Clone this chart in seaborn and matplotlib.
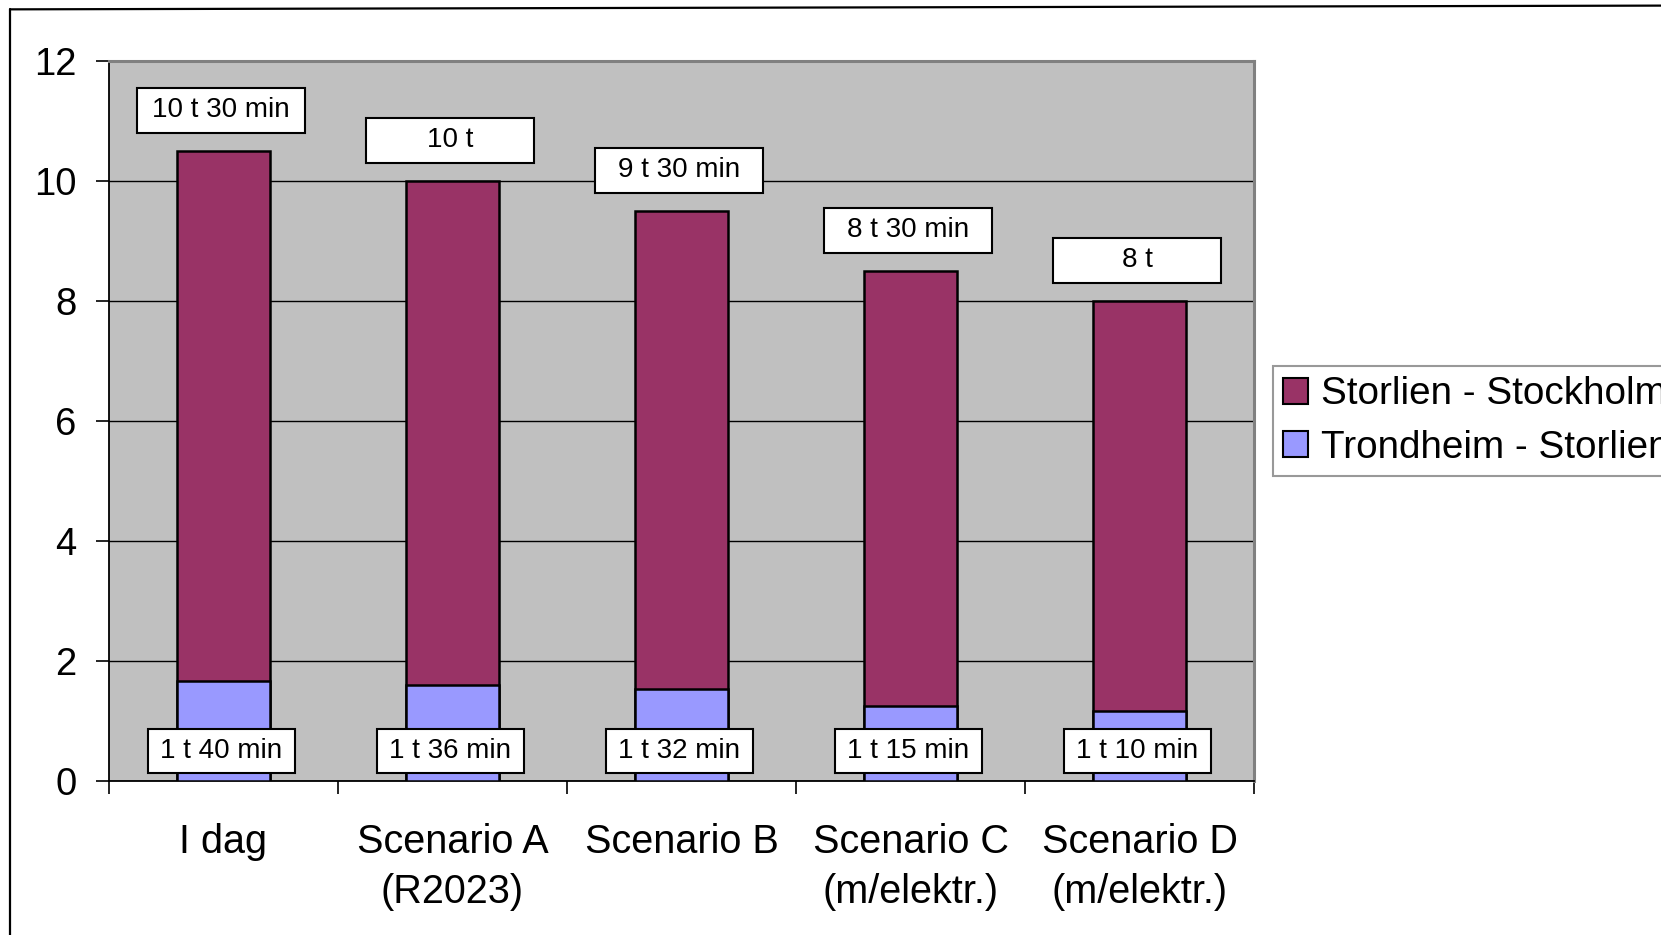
import matplotlib
matplotlib.use("Agg")
import matplotlib.pyplot as plt
import seaborn as sns
import pandas as pd
from matplotlib.patches import Rectangle, Patch
from matplotlib.lines import Line2D
from matplotlib.transforms import ScaledTranslation

# Travel times per scenario
categories = ["I dag", "Scenario A\n(R2023)", "Scenario B",
              "Scenario C\n(m/elektr.)", "Scenario D\n(m/elektr.)"]
total_minutes = [630, 600, 570, 510, 480]        # Trondheim - Stockholm, whole trip
trondheim_storlien_minutes = [100, 96, 92, 75, 70]
series_names = ["Storlien - Stockholm", "Trondheim - Storlien"]
y_ticks = [0, 2, 4, 6, 8, 10, 12]

PURPLE = "#993366"
LAVENDER = "#9999FF"
PLOT_BG = "#C0C0C0"


def fmt_time(minutes):
    h, m = divmod(minutes, 60)
    return f"{h} t" if m == 0 else f"{h} t {m} min"


df = pd.DataFrame({
    "category": categories,
    "total_h": [m / 60 for m in total_minutes],
    "lower_h": [m / 60 for m in trondheim_storlien_minutes],
})

sns.set_theme(style="white")
plt.rcParams["font.family"] = ["Liberation Sans", "DejaVu Sans"]
plt.rcParams["text.color"] = "black"
plt.rcParams["xtick.color"] = "black"
plt.rcParams["ytick.color"] = "black"
plt.rcParams["xtick.labelcolor"] = "black"
plt.rcParams["ytick.labelcolor"] = "black"

fig = plt.figure(figsize=(16.61, 9.35), dpi=100)
ax = fig.add_axes([0.0656, 0.1647, 0.6894, 0.770])
ax.set_facecolor(PLOT_BG)

bar_w = 0.41
# Full trip as the tall bar, the Trondheim - Storlien leg drawn over its base
sns.barplot(data=df, x="category", y="total_h", color=PURPLE, saturation=1,
            width=bar_w, edgecolor="black", linewidth=1.8, ax=ax, zorder=3)
sns.barplot(data=df, x="category", y="lower_h", color=LAVENDER, saturation=1,
            width=bar_w, edgecolor="black", linewidth=1.8, ax=ax, zorder=3)

ax.set_xlim(-0.5, len(categories) - 0.5)
ax.set_ylim(0, 12)
ax.set_yticks(y_ticks)
ax.set_yticklabels([str(t) for t in y_ticks])
ax.set_xlabel("")
ax.set_ylabel("")

ax.yaxis.grid(True, color="black", linewidth=1.0)
ax.xaxis.grid(False)
ax.set_axisbelow(True)

for side in ("left", "bottom"):
    ax.spines[side].set_color("black")
    ax.spines[side].set_linewidth(1.3)
for side in ("top", "right"):
    ax.spines[side].set_color("#808080")
    ax.spines[side].set_linewidth(2.2)

ax.tick_params(axis="y", which="major", direction="out", length=9.5, width=1.2,
               color="black", pad=14, labelsize=27.5, left=True)
ax.tick_params(axis="x", which="major", length=0, pad=30, labelsize=28.5)
ax.set_xticks([i - 0.5 for i in range(len(categories) + 1)], minor=True)
ax.tick_params(axis="x", which="minor", direction="out", length=9.5, width=1.2,
               color="black", bottom=True)
for lbl in ax.get_xticklabels():
    lbl.set_linespacing(1.42)
    lbl.set_horizontalalignment("center")

# Value boxes: totals above the bars, first leg near the base
def value_box(x, y, text, w_in, h_in):
    tr = fig.dpi_scale_trans + ScaledTranslation(x, y, ax.transData)
    ax.add_artist(Rectangle((-w_in / 2, -h_in / 2), w_in, h_in, transform=tr,
                            facecolor="white", edgecolor="black", linewidth=1.5,
                            zorder=5, clip_on=False))
    ax.text(x, y, text, ha="center", va="center", fontsize=20, zorder=6,
            color="black")


for i, (tot, low) in enumerate(zip(total_minutes, trondheim_storlien_minutes)):
    value_box(i - 0.01, tot / 60 + 0.68, fmt_time(tot), 1.68, 0.45)
    value_box(i - 0.01, 0.5, fmt_time(low), 1.47, 0.44)

handles = [Patch(facecolor=PURPLE, edgecolor="black", linewidth=1.5),
           Patch(facecolor=LAVENDER, edgecolor="black", linewidth=1.5)]
leg = fig.legend(handles, series_names, loc="upper left",
                 bbox_to_anchor=(0.7664, 0.6086), bbox_transform=fig.transFigure,
                 borderaxespad=0, fontsize=27.8, frameon=True, fancybox=False,
                 handlelength=0.64, handleheight=0.64, handletextpad=0.33,
                 labelspacing=0.45, borderpad=0.27)
leg.get_frame().set_edgecolor("#808080")
leg.get_frame().set_linewidth(1.5)
for t in leg.get_texts():
    t.set_color("black")

# Outer chart frame
fig.add_artist(Line2D([0.0063, 0.0063], [0.0, 0.990], transform=fig.transFigure,
                      color="black", linewidth=1.6))
fig.add_artist(Line2D([0.0063, 1.0], [0.990, 0.994], transform=fig.transFigure,
                      color="black", linewidth=1.6))

fig.savefig("out.png", dpi=100)
